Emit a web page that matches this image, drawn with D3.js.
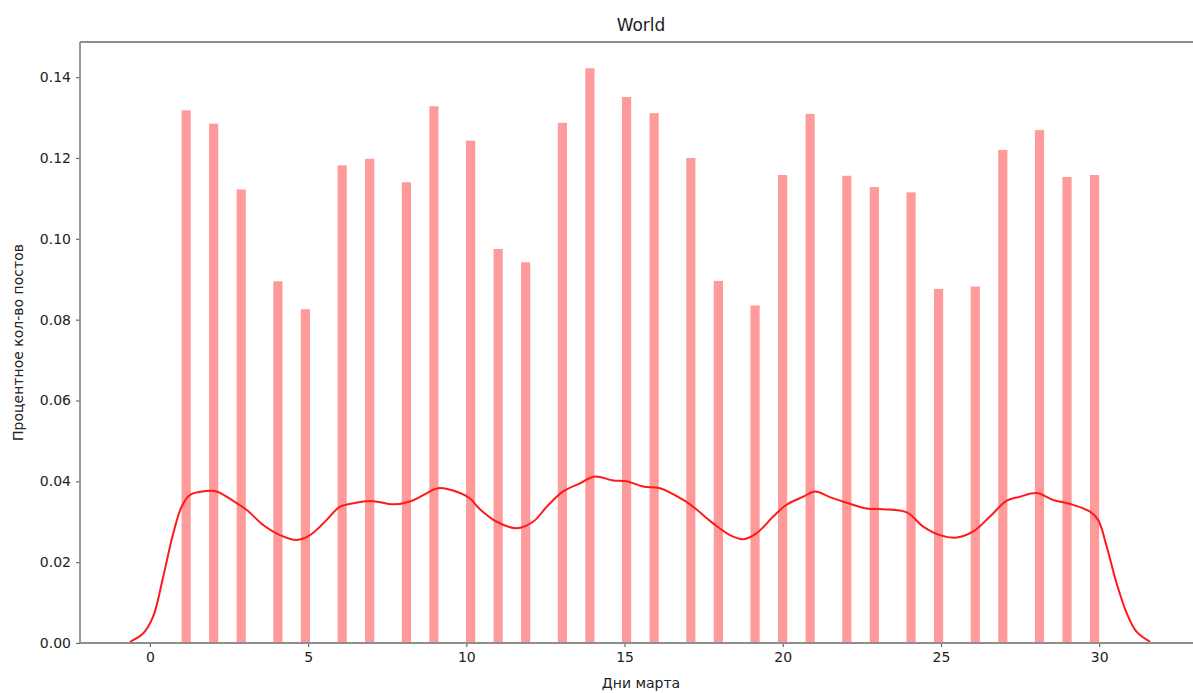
<!DOCTYPE html>
<html>
<head>
<meta charset="utf-8">
<script src="https://cdn.jsdelivr.net/npm/d3@7"></script>
<style>
  html, body { margin: 0; padding: 0; background: #fff; }
  svg { display: block; }
  text { font-family: "DejaVu Sans", sans-serif; fill: #222; }
</style>
</head>
<body>
<svg id="chart" width="1193" height="693"></svg>
<script>
// Share of posts per day of March (density histogram, 100 bins over 1..30)
const days = d3.range(1, 31);
const shares = [
  0.1318, 0.1285, 0.1122, 0.0895, 0.0826, 0.1182, 0.1198, 0.1140, 0.1328, 0.1243,
  0.0975, 0.0942, 0.1287, 0.1422, 0.1351, 0.1311, 0.1200, 0.0896, 0.0835, 0.1158,
  0.1309, 0.1156, 0.1128, 0.1115, 0.0876, 0.0882, 0.1220, 0.1269, 0.1153, 0.1158
];
const binLo = 1, binHi = 30, binCount = 100;

// Kernel density estimate curve
const kdeX = [
  -0.63, -0.21, 0.10, 0.42, 0.74, 1.00, 1.26, 1.79, 2.11, 2.74, 3.06, 3.58, 4.11, 4.64,
  5.06, 5.58, 6.00, 6.43, 7.06, 7.69, 8.22, 8.64, 9.11, 9.80, 10.11, 10.43, 10.96, 11.59,
  12.11, 12.54, 13.06, 13.59, 14.06, 14.64, 15.07, 15.59, 16.12, 16.86, 17.17, 17.80,
  18.33, 18.75, 19.18, 19.70, 20.12, 20.65, 21.02, 21.49, 22.02, 22.65, 23.18, 23.92,
  24.44, 24.97, 25.50, 26.02, 26.55, 27.08, 27.50, 28.02, 28.55, 29.08, 29.71, 29.97,
  30.24, 30.55, 30.87, 31.18, 31.61
];
const kdeY = [
  0.0003, 0.0024, 0.0065, 0.0164, 0.0272, 0.0337, 0.0366, 0.0376, 0.0375, 0.0346, 0.0329,
  0.0292, 0.0267, 0.0255, 0.0267, 0.0304, 0.0337, 0.0346, 0.0351, 0.0343, 0.0350, 0.0366,
  0.0383, 0.0371, 0.0358, 0.0331, 0.0300, 0.0284, 0.0300, 0.0337, 0.0375, 0.0395, 0.0412,
  0.0402, 0.0400, 0.0387, 0.0383, 0.0354, 0.0337, 0.0296, 0.0267, 0.0257, 0.0272, 0.0313,
  0.0342, 0.0362, 0.0375, 0.0361, 0.0347, 0.0333, 0.0331, 0.0323, 0.0288, 0.0267, 0.0261,
  0.0276, 0.0313, 0.0352, 0.0362, 0.0371, 0.0354, 0.0344, 0.0325, 0.0304, 0.0238, 0.0148,
  0.0074, 0.0028, 0.0003
];

const xTicks = [0, 5, 10, 15, 20, 25, 30];
const yTicks = [0, 0.02, 0.04, 0.06, 0.08, 0.10, 0.12, 0.14];

const titleText = "World";
const xLabel = "Дни марта";
const yLabel = "Процентное кол-во постов";

// Plot area
const plot = { left: 80, top: 42, bottom: 643, right: 1202 };
const svg = d3.select("#chart");

const x = d3.scaleLinear().domain([-2.21, 33.25]).range([plot.left, plot.right]);
const y = d3.scaleLinear().domain([0, 0.1487]).range([plot.bottom, plot.top]);

// Histogram bars
const binW = (binHi - binLo) / binCount;
const bars = days.map((d, i) => {
  const k = Math.min(Math.floor((d - binLo) / binW + 1e-9), binCount - 1);
  return { x0: binLo + k * binW, x1: binLo + (k + 1) * binW, v: shares[i] };
});

svg.append("g")
  .selectAll("rect")
  .data(bars)
  .join("rect")
  .attr("x", d => x(d.x0))
  .attr("width", d => x(d.x1) - x(d.x0))
  .attr("y", d => y(d.v))
  .attr("height", d => y(0) - y(d.v))
  .attr("fill", "#ff9a9a");

// KDE line
const kde = kdeX.map((v, i) => [v, kdeY[i]]);
svg.append("path")
  .datum(kde)
  .attr("fill", "none")
  .attr("stroke", "#ff1a1a")
  .attr("stroke-width", 2)
  .attr("d", d3.line().x(d => x(d[0])).y(d => y(d[1])).curve(d3.curveCatmullRom.alpha(0.5)));

// Axes
const xAxis = d3.axisBottom(x).tickValues(xTicks).tickFormat(d3.format("d")).tickSize(4).tickPadding(5);
const yAxis = d3.axisLeft(y).tickValues(yTicks).tickFormat(d3.format(".2f")).tickSize(4).tickPadding(5);

const gx = svg.append("g").attr("transform", `translate(0,${plot.bottom})`).call(xAxis);
const gy = svg.append("g").attr("transform", `translate(${plot.left},0)`).call(yAxis);

[gx, gy].forEach(g => {
  g.select(".domain").remove();
  g.selectAll(".tick line").attr("stroke", "#666").attr("stroke-width", 1.2);
  g.selectAll(".tick text").attr("font-size", 14).attr("fill", "#2a2a2a")
    .style("font-family", "DejaVu Sans, sans-serif");
});

// Frame
const spine = { stroke: "#8e8e8e", width: 1.8 };
const frameLines = [
  [plot.left, plot.top, plot.left, plot.bottom],
  [plot.left, plot.bottom, plot.right, plot.bottom],
  [plot.left, plot.top, plot.right, plot.top],
  [plot.right, plot.top, plot.right, plot.bottom]
];
svg.append("g").selectAll("line").data(frameLines).join("line")
  .attr("x1", d => d[0]).attr("y1", d => d[1]).attr("x2", d => d[2]).attr("y2", d => d[3])
  .attr("stroke", spine.stroke).attr("stroke-width", spine.width);

// Titles
svg.append("text")
  .attr("x", (plot.left + plot.right) / 2).attr("y", 31)
  .attr("text-anchor", "middle").attr("font-size", 17)
  .text(titleText);

svg.append("text")
  .attr("x", (plot.left + plot.right) / 2).attr("y", 688)
  .attr("text-anchor", "middle").attr("font-size", 14)
  .text(xLabel);

svg.append("text")
  .attr("transform", `translate(23,${(plot.top + plot.bottom) / 2}) rotate(-90)`)
  .attr("text-anchor", "middle").attr("font-size", 14)
  .text(yLabel);
</script>
</body>
</html>
